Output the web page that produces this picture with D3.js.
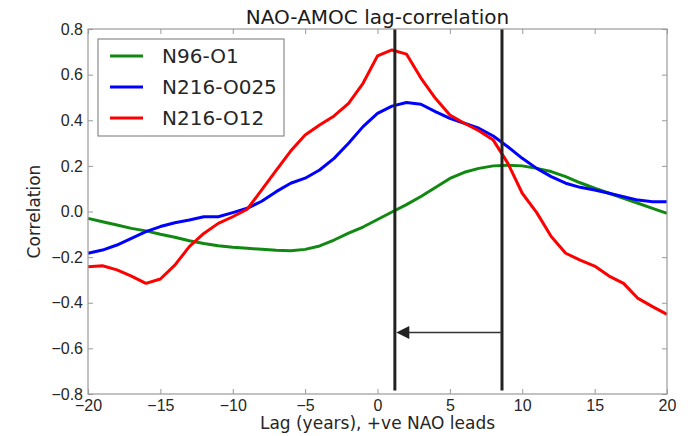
<!DOCTYPE html>
<html>
<head>
<meta charset="utf-8">
<script src="https://cdn.jsdelivr.net/npm/d3@7"></script>
<style>
  html, body { margin: 0; padding: 0; background: #fff; }
  svg { display: block; font-family: "DejaVu Sans", sans-serif; }
</style>
</head>
<body>
<svg id="chart" width="688" height="436"></svg>
<script>
// Lag in years (positive: NAO leads AMOC)
const lags = d3.range(-20, 21);

// Lag-correlation series, one value per lag
const n96o1 = [-0.030, -0.045, -0.059, -0.074, -0.085, -0.100, -0.113, -0.128, -0.140, -0.150,
  -0.157, -0.161, -0.166, -0.170, -0.172, -0.166, -0.151, -0.125, -0.095, -0.068,
  -0.035, -0.002, 0.030, 0.066, 0.105, 0.145, 0.172, 0.189, 0.200, 0.203,
  0.200, 0.189, 0.175, 0.153, 0.126, 0.102, 0.080, 0.058, 0.036, 0.014, -0.008];

const n216o025 = [-0.183, -0.169, -0.147, -0.118, -0.088, -0.066, -0.049, -0.037, -0.023, -0.023,
  -0.005, 0.014, 0.045, 0.087, 0.124, 0.146, 0.182, 0.233, 0.299, 0.372,
  0.430, 0.462, 0.478, 0.470, 0.438, 0.408, 0.387, 0.365, 0.331, 0.284,
  0.233, 0.189, 0.153, 0.124, 0.106, 0.094, 0.080, 0.065, 0.050, 0.043, 0.043];

const n216o12 = [-0.242, -0.238, -0.256, -0.283, -0.315, -0.296, -0.235, -0.154, -0.096, -0.052,
  -0.023, 0.010, 0.095, 0.180, 0.265, 0.335, 0.379, 0.419, 0.474, 0.562,
  0.682, 0.708, 0.690, 0.585, 0.496, 0.423, 0.387, 0.354, 0.313, 0.212,
  0.080, -0.005, -0.110, -0.183, -0.213, -0.239, -0.283, -0.315, -0.381, -0.417, -0.451];

const seriesNames = ["N96-O1", "N216-O025", "N216-O12"];
const seriesColors = ["#118811", "#0000ff", "#ff0000"];
const seriesValues = [n96o1, n216o025, n216o12];

// Tick values
const xTicks = [-20, -15, -10, -5, 0, 5, 10, 15, 20];
const yTicks = [-0.8, -0.6, -0.4, -0.2, 0.0, 0.2, 0.4, 0.6, 0.8];

// Marker lines (lag of each peak) and the arrow between them
const markerLags = [1.2, 8.6];
const markerTop = 0.8, markerBottom = -0.785;
const arrowY = -0.53, arrowFrom = 8.6, arrowTo = 1.3;

const svg = d3.select("#chart");
const W = 688, H = 436;
const margin = { left: 88, top: 29, right: 21, bottom: 42 };
const iw = W - margin.left - margin.right;
const ih = H - margin.top - margin.bottom;

const x = d3.scaleLinear().domain([-20, 20]).range([0, iw]);
const y = d3.scaleLinear().domain([-0.8, 0.8]).range([ih, 0]);

const g = svg.append("g").attr("transform", `translate(${margin.left},${margin.top})`);

const spine = "#9a9a9a";
const textCol = "#262626";
const tickFmt = d3.format(".1f");

// Axes with inward ticks on all four sides
function styleAxis(sel) {
  sel.select(".domain").remove();
  sel.selectAll(".tick line").attr("stroke", spine).attr("stroke-width", 1);
  sel.selectAll(".tick text").attr("fill", textCol).style("font-size", "16px");
}
g.append("g").attr("transform", `translate(0,${ih})`)
  .call(d3.axisBottom(x).tickValues(xTicks).tickSize(-5).tickPadding(6).tickFormat(d3.format("d")))
  .call(styleAxis);
g.append("g").attr("transform", `translate(0,0)`)
  .call(d3.axisTop(x).tickValues(xTicks).tickSize(-5).tickFormat(""))
  .call(styleAxis);
g.append("g")
  .call(d3.axisLeft(y).tickValues(yTicks).tickSize(-5).tickPadding(5).tickFormat(tickFmt))
  .call(styleAxis);
g.append("g").attr("transform", `translate(${iw},0)`)
  .call(d3.axisRight(y).tickValues(yTicks).tickSize(-5).tickFormat(""))
  .call(styleAxis);

// Series lines
const line = d3.line().x((d, i) => x(lags[i])).y(d => y(d));
seriesValues.forEach((vals, k) => {
  g.append("path")
    .datum(vals)
    .attr("fill", "none")
    .attr("stroke", seriesColors[k])
    .attr("stroke-width", 3)
    .attr("stroke-linejoin", "round")
    .attr("d", line);
});

// Vertical markers at the two peak lags
g.selectAll(".marker").data(markerLags).enter().append("line")
  .attr("x1", d => x(d)).attr("x2", d => x(d))
  .attr("y1", y(markerTop)).attr("y2", y(markerBottom))
  .attr("stroke", "#222").attr("stroke-width", 3);

// Arrow from the AMOC peak back to the NAO-led peak
g.append("line")
  .attr("x1", x(arrowFrom)).attr("x2", x(arrowTo) + 12)
  .attr("y1", y(arrowY)).attr("y2", y(arrowY))
  .attr("stroke", "#333").attr("stroke-width", 1.5);
const ax = x(arrowTo), ay = y(arrowY);
g.append("path")
  .attr("d", `M${ax},${ay} L${ax + 13},${ay - 6.5} L${ax + 13},${ay + 6.5} Z`)
  .attr("fill", "#222");

// Frame
g.append("rect").attr("x", 0).attr("y", 0).attr("width", iw).attr("height", ih)
  .attr("fill", "none").attr("stroke", spine).attr("stroke-width", 1.2);

// Title and axis labels
svg.append("text").attr("x", margin.left + iw / 2).attr("y", 24)
  .attr("text-anchor", "middle").attr("fill", "#1a1a1a").style("font-size", "20px")
  .text("NAO-AMOC lag-correlation");
svg.append("text").attr("x", margin.left + iw / 2).attr("y", 429)
  .attr("text-anchor", "middle").attr("fill", textCol).style("font-size", "17px")
  .text("Lag (years), +ve NAO leads");
svg.append("text").attr("transform", `translate(40,${margin.top + ih / 2}) rotate(-90)`)
  .attr("text-anchor", "middle").attr("fill", textCol).style("font-size", "17px")
  .text("Correlation");

// Legend
const lg = svg.append("g").attr("transform", "translate(98,39)");
lg.append("rect").attr("width", 186).attr("height", 97)
  .attr("fill", "#fff").attr("stroke", "#8a8a8a").attr("stroke-width", 1.2);
seriesNames.forEach((name, k) => {
  const cy = 17 + k * 31;
  lg.append("line").attr("x1", 12).attr("x2", 45).attr("y1", cy).attr("y2", cy)
    .attr("stroke", seriesColors[k]).attr("stroke-width", 3);
  lg.append("text").attr("x", 64).attr("y", cy + 7)
    .attr("fill", textCol).style("font-size", "20px").text(name);
});
</script>
</body>
</html>
